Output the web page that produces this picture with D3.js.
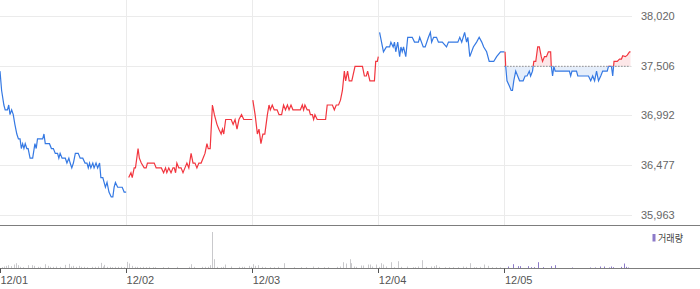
<!DOCTYPE html>
<html><head><meta charset="utf-8">
<script src="https://cdn.jsdelivr.net/npm/d3@7"></script>
<style>
html,body{margin:0;padding:0;background:#fff;}
svg{display:block;font-family:"Liberation Sans",Arial,sans-serif;}
</style></head>
<body><svg id="c" width="700" height="289"></svg>
<script>
// ---- data ----
const days = ["12/01", "12/02", "12/03", "12/04", "12/05"];
const dayColor = ["down", "up", "up", "down", "split"];
const yTicks = [35963, 36477, 36992, 37506, 38020];
const prevClose = 37500;
const volumeLegend = "거래량";

// [minute from 09:00, price]
const day1 = [[0,37450],[5,37250],[12,37100],[16,37050],[23,37050],[27,37100],[31,37000],[36,37050],[41,37000],[46,36900],[52,36800],[57,36750],[62,36750],[66,36650],[70,36700],[74,36650],[78,36700],[83,36650],[87,36650],[93,36550],[101,36550],[108,36700],[112,36650],[116,36750],[126,36750],[132,36750],[136,36800],[140,36700],[153,36700],[159,36650],[165,36650],[171,36600],[178,36600],[182,36550],[186,36600],[192,36550],[198,36550],[202,36550],[207,36500],[213,36550],[217,36500],[222,36450],[227,36500],[233,36600],[242,36600],[248,36550],[256,36550],[263,36500],[269,36500],[273,36450],[277,36500],[281,36450],[287,36500],[291,36450],[297,36500],[302,36450],[308,36500],[312,36350],[318,36350],[322,36300],[326,36250],[331,36300],[337,36200],[344,36150],[349,36150],[353,36250],[357,36300],[364,36250],[372,36250],[378,36250],[384,36200],[390,36200]];
const day2 = [[8,36350],[15,36400],[19,36350],[25,36450],[29,36450],[33,36550],[37,36650],[41,36550],[47,36500],[56,36450],[62,36450],[66,36500],[87,36500],[93,36450],[109,36450],[116,36400],[122,36450],[126,36400],[132,36450],[139,36400],[145,36450],[149,36450],[153,36400],[157,36500],[163,36450],[170,36450],[176,36400],[182,36450],[188,36500],[194,36450],[201,36600],[207,36500],[213,36500],[219,36450],[225,36500],[232,36500],[238,36550],[244,36600],[250,36700],[254,36650],[260,36650],[267,37100],[273,37000],[281,36900],[287,36850],[294,36800],[298,36850],[302,36800],[308,36950],[325,36950],[331,36900],[337,36950],[343,36850],[349,36950],[357,37000],[364,36950],[390,36950]];
const day3 = [[2,37150],[9,37000],[16,36800],[21,36850],[27,36700],[33,36800],[39,36800],[47,37000],[52,37100],[56,37050],[62,37100],[68,37050],[77,37050],[83,37000],[91,37000],[97,37100],[103,37050],[109,37100],[114,37050],[120,37100],[126,37050],[149,37050],[155,37100],[159,37050],[163,37100],[170,37050],[176,37050],[180,37000],[186,37000],[190,36950],[194,37000],[201,36950],[227,36950],[232,37100],[248,37100],[254,37050],[260,37100],[267,37100],[273,37150],[279,37250],[285,37450],[289,37350],[295,37450],[300,37350],[308,37350],[318,37500],[341,37500],[347,37400],[353,37400],[357,37450],[364,37350],[378,37350],[382,37550],[387,37550],[390,37600]];
const day4 = [[4,37850],[10,37750],[16,37650],[25,37700],[31,37700],[35,37700],[39,37750],[46,37700],[50,37750],[54,37650],[60,37750],[66,37600],[70,37700],[74,37650],[78,37700],[85,37600],[91,37800],[105,37800],[112,37750],[124,37750],[128,37800],[139,37700],[145,37700],[155,37800],[161,37850],[165,37750],[171,37800],[180,37800],[186,37750],[198,37750],[211,37700],[217,37750],[246,37750],[252,37800],[258,37750],[267,37850],[273,37750],[277,37800],[283,37600],[294,37700],[304,37750],[312,37800],[320,37750],[326,37700],[335,37650],[343,37550],[357,37550],[366,37600],[378,37650],[390,37650]];
const day5 = [[2,37650],[4,37500],[8,37350],[15,37300],[21,37250],[25,37250],[29,37350],[35,37450],[41,37400],[47,37350],[58,37350],[64,37400],[70,37400],[77,37450],[81,37400],[87,37450],[91,37550],[97,37550],[103,37700],[108,37700],[114,37600],[118,37550],[124,37600],[130,37600],[136,37650],[143,37650],[145,37500],[149,37400],[153,37500],[157,37450],[201,37450],[205,37400],[209,37450],[223,37450],[227,37400],[260,37400],[267,37350],[273,37400],[279,37350],[285,37450],[291,37350],[298,37400],[304,37450],[318,37450],[322,37500],[331,37500],[335,37400],[339,37550],[349,37550],[356,37575],[362,37575],[366,37610],[374,37600],[380,37615],[387,37650],[390,37650]];

// [minute, volume]
const vol1 = [[6,4000],[13,6000],[18,8000],[25,10000],[33,7000],[42,12000],[51,16000],[57,10000],[63,5000],[71,4000],[88,10000],[99,10000],[106,8000],[116,5000],[123,5000],[139,13000],[147,8000],[154,5000],[164,5000],[172,6000],[187,5000],[202,11000],[212,14000],[221,6000],[227,8000],[235,5000],[244,8000],[250,5000],[260,5000],[270,4000],[283,5000],[293,5000],[303,6000],[311,17000],[318,6000],[323,11000],[331,5000],[339,5000],[347,4000],[356,5000],[366,5000],[375,5000],[383,4000]];
const vol2 = [[2,20000],[9,15000],[19,8000],[27,5000],[34,5000],[42,4000],[52,5000],[60,4000],[72,5000],[83,4000],[90,4000],[113,4000],[131,4000],[156,5000],[196,5000],[201,13000],[211,5000],[234,5000],[244,5000],[254,5000],[261,10000],[267,110000],[271,28000],[280,5000],[292,4000],[300,5000],[307,12000],[325,6000],[348,5000],[358,5000],[366,5000],[381,8000],[386,5000]];
const vol3 = [[1,13000],[8,8000],[18,10000],[29,5000],[41,4000],[54,4000],[66,4000],[79,5000],[97,16000],[130,4000],[152,4000],[165,4000],[188,6000],[203,4000],[221,4000],[233,4000],[261,5000],[271,6000],[281,19000],[291,15000],[301,28000],[307,16000],[314,6000],[322,5000],[338,9000],[344,9000],[357,12000],[363,12000],[370,6000],[382,12000]];
const vol4 = [[1,5000],[7,16000],[15,12000],[25,6000],[40,19000],[50,4000],[61,22000],[71,5000],[88,6000],[106,4000],[114,4000],[124,6000],[136,25000],[146,5000],[164,6000],[172,7000],[179,10000],[189,5000],[207,4000],[220,4000],[232,4000],[245,4000],[263,6000],[270,5000],[283,16000],[296,4000],[303,4000],[316,5000],[326,12000],[338,8000],[351,4000],[364,4000],[376,4000]];
const vol5 = [[12,6000],[26,13000],[42,7000],[47,7000],[72,7000],[82,4000],[90,4000],[103,19000],[120,4000],[143,7000],[156,10000],[209,3000],[264,3000],[279,3000],[297,6000],[307,6000],[322,3000],[329,6000],[335,4000],[360,5000],[369,15000],[377,5000],[382,3000]];

const priceDays = [day1, day2, day3, day4, day5];
const volDays = [vol1, vol2, vol3, vol4, vol5];

// ---- drawing ----
const MIN_PER_DAY = 390;
const W = 700;
const plotRight = 632;
const priceTop = 16, priceBottom = 215, panelBottom = 225.5;
const volBase = 268.5, volTop = 232;
const RED = "#f2363f", BLUE = "#3579e3";
const RED_FILL = "#fde7e8", BLUE_FILL = "#e5eefb";

const svg = d3.select("#c");
const x = d3.scaleLinear().domain([0, days.length * MIN_PER_DAY]).range([0, 630.5]);
const y = d3.scaleLinear().domain([yTicks[0], yTicks[yTicks.length - 1]]).range([priceBottom, priceTop]);
const v = d3.scaleLinear().domain([0, d3.max(volDays.flat(), d => d[1])]).range([volBase, volTop]);

const gx = (di, m) => x(di * MIN_PER_DAY + m);

// grid
svg.append("g").selectAll("line").data(yTicks).join("line")
  .attr("x1", 0).attr("x2", plotRight)
  .attr("y1", d => Math.round(y(d)) + 0.5).attr("y2", d => Math.round(y(d)) + 0.5)
  .attr("stroke", "#ebebeb").attr("stroke-width", 1);
svg.append("g").selectAll("line").data(d3.range(1, days.length)).join("line")
  .attr("x1", d => Math.round(gx(d, 0)) + 0.5).attr("x2", d => Math.round(gx(d, 0)) + 0.5)
  .attr("y1", 0).attr("y2", panelBottom)
  .attr("stroke", "#ebebeb").attr("stroke-width", 1);

// y labels
svg.append("g").selectAll("text").data(yTicks).join("text")
  .attr("x", 641).attr("y", d => y(d) + 4)
  .attr("font-size", 11).attr("fill", "#666")
  .text(d => d3.format(",")(d));

// clip paths for last day
const baseY = y(prevClose);
const defs = svg.append("defs");
defs.append("clipPath").attr("id", "above").append("rect")
  .attr("x", 0).attr("y", 0).attr("width", W).attr("height", baseY);
defs.append("clipPath").attr("id", "below").append("rect")
  .attr("x", 0).attr("y", baseY).attr("width", W).attr("height", panelBottom - baseY);

priceDays.forEach((data, di) => {
  const line = d3.line().x(d => gx(di, d[0])).y(d => y(d[1]));
  if (dayColor[di] === "split") {
    const area = d3.area().x(d => gx(di, d[0])).y0(baseY).y1(d => y(d[1]));
    svg.append("path").datum(data).attr("d", area).attr("fill", RED_FILL).attr("clip-path", "url(#above)");
    svg.append("path").datum(data).attr("d", area).attr("fill", BLUE_FILL).attr("clip-path", "url(#below)");
    svg.append("line").attr("x1", gx(di, 0)).attr("x2", gx(di, MIN_PER_DAY))
      .attr("y1", baseY).attr("y2", baseY)
      .attr("stroke", "#555").attr("stroke-width", 1).attr("stroke-dasharray", "1,2");
    svg.append("path").datum(data).attr("d", line).attr("fill", "none")
      .attr("stroke", RED).attr("stroke-width", 1.2).attr("clip-path", "url(#above)");
    svg.append("path").datum(data).attr("d", line).attr("fill", "none")
      .attr("stroke", BLUE).attr("stroke-width", 1.2).attr("clip-path", "url(#below)");
  } else {
    svg.append("path").datum(data).attr("d", line).attr("fill", "none")
      .attr("stroke", dayColor[di] === "up" ? RED : BLUE).attr("stroke-width", 1.2);
  }
});

// panel separators
svg.append("line").attr("x1", 0).attr("x2", W).attr("y1", panelBottom).attr("y2", panelBottom)
  .attr("stroke", "#7d7d7d").attr("stroke-width", 1);

// volume bars
volDays.forEach((data, di) => {
  svg.append("g").selectAll("rect").data(data).join("rect")
    .attr("x", d => Math.round(gx(di, d[0])))
    .attr("width", 1)
    .attr("y", d => v(d[1]))
    .attr("height", d => volBase - v(d[1]))
    .attr("fill", di === days.length - 1 ? "#8d7bc9" : "#c9c9cc");
});

svg.append("line").attr("x1", 0).attr("x2", W).attr("y1", volBase).attr("y2", volBase)
  .attr("stroke", "#7d7d7d").attr("stroke-width", 1);

// x axis ticks + labels
const xt = svg.append("g");
xt.selectAll("line").data(days).join("line")
  .attr("x1", (d, i) => Math.round(gx(i, 0)) + 0.5).attr("x2", (d, i) => Math.round(gx(i, 0)) + 0.5)
  .attr("y1", volBase).attr("y2", volBase + 4.5)
  .attr("stroke", "#555").attr("stroke-width", 1);
xt.selectAll("text").data(days).join("text")
  .attr("x", (d, i) => gx(i, 0) + 0.5).attr("y", 284)
  .attr("font-size", 11).attr("fill", "#555")
  .text(d => d);

// legend
svg.append("rect").attr("x", 652.5).attr("y", 234).attr("width", 3).attr("height", 7.5).attr("fill", "#8d7bc9");
svg.append("text").attr("x", 658).attr("y", 241.5)
  .attr("font-size", 10).attr("fill", "#444")
  .attr("font-family", "'Noto Sans CJK KR', sans-serif")
  .attr("textLength", 25).attr("lengthAdjust", "spacingAndGlyphs")
  .text(volumeLegend);
</script>
</body></html>
